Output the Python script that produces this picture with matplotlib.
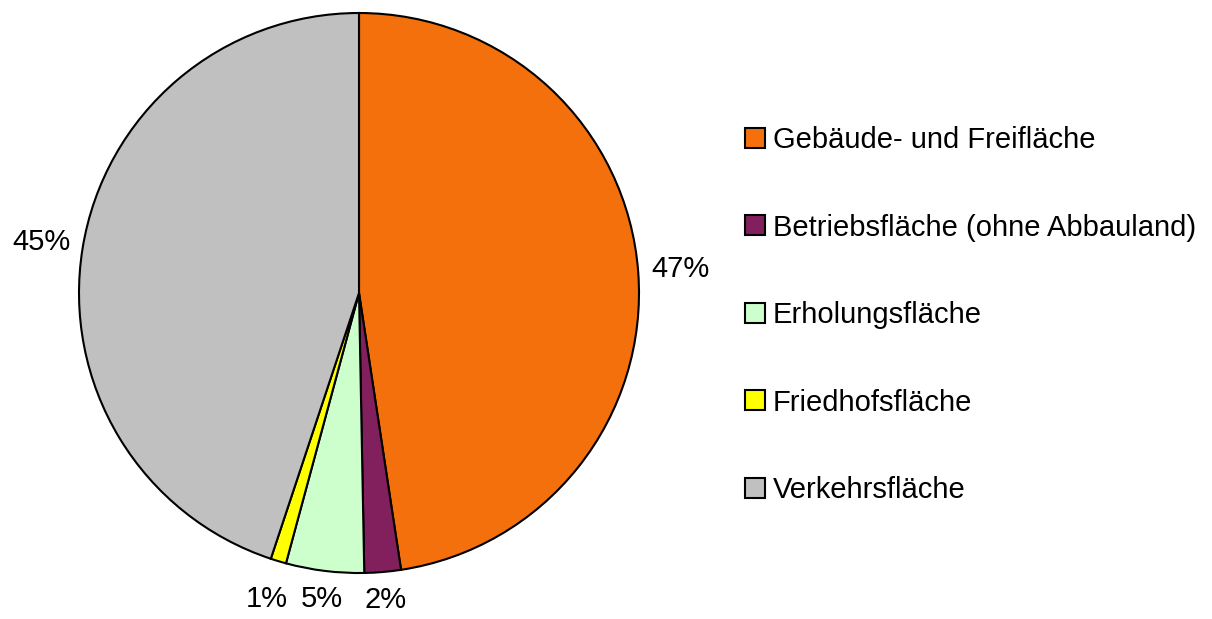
import matplotlib
matplotlib.use("Agg")
import numpy as np
import matplotlib.pyplot as plt
from matplotlib.patches import Patch

plt.rcParams['font.family'] = ['Liberation Sans', 'DejaVu Sans']

categories = ["Gebäude- und Freifläche", "Betriebsfläche (ohne Abbauland)",
              "Erholungsfläche", "Friedhofsfläche", "Verkehrsfläche"]
values = [47.6, 2.1, 4.5, 0.9, 44.9]
pct_labels = ["47%", "2%", "5%", "1%", "45%"]
colors = ["#F3700C", "#82205E", "#CCFFCC", "#FFFF00", "#C0C0C0"]
label_dist = [1.15, 1.10, 1.10, 1.14, 1.15]

fig = plt.figure(figsize=(12.12, 6.19), dpi=100)
ax = fig.add_axes([79/1212, (619-573)/619, 560/1212, 560/619])

wedges, _ = ax.pie(values, colors=colors, startangle=90, counterclock=False,
                   wedgeprops=dict(edgecolor="black", linewidth=1.5))
for w, lab, d in zip(wedges, pct_labels, label_dist):
    w.set_clip_on(False)
    ang = np.deg2rad((w.theta1 + w.theta2) / 2)
    ax.text(d * np.cos(ang), d * np.sin(ang), lab, ha="center", va="center", fontsize=21)
ax.set_xlim(-1, 1)
ax.set_ylim(-1, 1)
ax.set_aspect("equal")
ax.axis("off")

handles = [Patch(facecolor=c, edgecolor="black", linewidth=1.5) for c in colors]
fig.legend(handles, categories, loc="upper left", bbox_to_anchor=(745/1212, 1 - 126/619),
           frameon=False, fontsize=21, handlelength=0.68, handleheight=0.68,
           handletextpad=0.27, labelspacing=2.04, borderaxespad=0, borderpad=0)

fig.savefig("out.png", dpi=100)
